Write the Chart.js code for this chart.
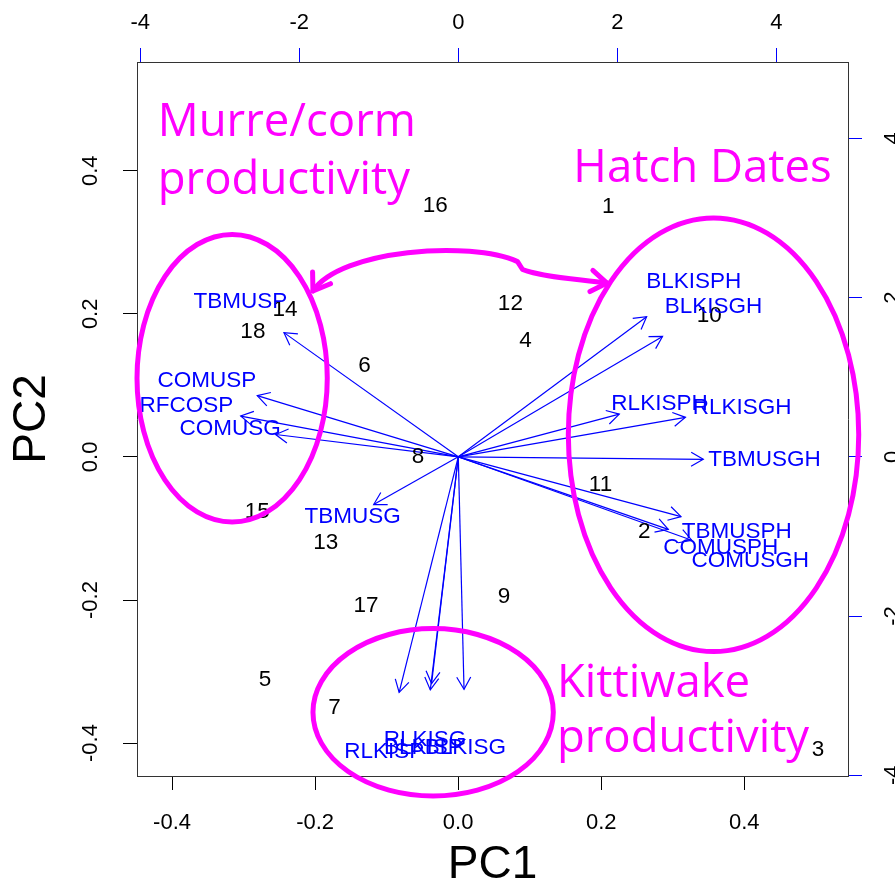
<!DOCTYPE html>
<html>
<head>
<meta charset="utf-8">
<script src="https://cdn.jsdelivr.net/npm/chart.js@4.4.0/dist/chart.umd.min.js"></script>
<style>
html, body { margin: 0; padding: 0; background: #fff; }
</style>
</head>
<body>
<canvas id="biplot" width="895" height="888"></canvas>
<script>
// observation scores (PC1, PC2)
var obsLabels = ['1','2','3','4','5','6','7','8','9','10','11','12','13','14','15','16','17','18'];
var pc1Scores = [0.210, 0.260, 0.503, 0.094, -0.270, -0.131, -0.173, -0.056, 0.064, 0.351, 0.199, 0.073, -0.185, -0.242, -0.281, -0.032, -0.129, -0.287];
var pc2Scores = [0.350, -0.105, -0.410, 0.162, -0.312, 0.127, -0.350, 0.000, -0.196, 0.197, -0.039, 0.214, -0.120, 0.206, -0.077, 0.351, -0.208, 0.175];

// variable loadings (top / right axes)
var varNames = ['TBMUSP','COMUSP','RFCOSP','COMUSG','TBMUSG','BLKISPH','BLKISGH','RLKISPH','RLKISGH','TBMUSGH','TBMUSPH','COMUSPH','COMUSGH','RLKISG','RLKISP','BLKISP','BLKISG'];
var load1 = [-2.74, -3.16, -3.42, -2.87, -1.33, 2.96, 3.21, 2.53, 3.57, 3.85, 3.50, 3.30, 3.67, -0.42, -0.93, -0.44, 0.09];
var load2 = [1.95, 0.96, 0.64, 0.35, -0.75, 2.20, 1.89, 0.67, 0.62, -0.04, -0.94, -1.14, -1.31, -3.56, -3.70, -3.66, -3.65];

// tick values
var pcTicks = [-0.4, -0.2, 0.0, 0.2, 0.4];
var loadTicks = [-4, -2, 0, 2, 4];

var FONT = '"Liberation Sans", Arial, sans-serif';
var BLUE = '#0000ff';
var MAGENTA = '#ff00ff';

// hand-drawn annotations, in PC score units
var ellipses = [
  {cx: -0.316, cy: 0.110, rx: 0.133, ry: 0.201},
  {cx: 0.357, cy: 0.031, rx: 0.203, ry: 0.303},
  {cx: -0.035, cy: -0.357, rx: 0.168, ry: 0.117}
];
var notes = [
  {text: 'Murre/corm', x: -0.420, y: 0.449},
  {text: 'productivity', x: -0.420, y: 0.367},
  {text: 'Hatch Dates', x: 0.161, y: 0.384},
  {text: 'Kittiwake', x: 0.138, y: -0.335},
  {text: 'productivity', x: 0.138, y: -0.413}
];
var linkCurve = [[-0.203, 0.232], [-0.165, 0.290], [0.017, 0.303], [0.083, 0.273], [0.090, 0.262], [0.115, 0.252], [0.164, 0.249], [0.208, 0.243]];

var datasets = [{
  label: 'scores',
  data: pc1Scores.map(function (v, i) { return {x: v, y: pc2Scores[i]}; }),
  xAxisID: 'x', yAxisID: 'y',
  pointRadius: 0, pointHoverRadius: 0
}];
varNames.forEach(function (name, i) {
  datasets.push({
    label: name,
    data: [{x: 0, y: 0}, {x: load1[i] * 0.8, y: load2[i] * 0.8}],
    xAxisID: 'x2', yAxisID: 'y2',
    showLine: true, borderColor: BLUE, borderWidth: 1.2,
    pointRadius: 0, pointHoverRadius: 0
  });
});

function arrowHead(ctx, x0, y0, x1, y1, len, spread) {
  var ang = Math.atan2(y1 - y0, x1 - x0);
  ctx.beginPath();
  ctx.moveTo(x1 - len * Math.cos(ang - spread), y1 - len * Math.sin(ang - spread));
  ctx.lineTo(x1, y1);
  ctx.lineTo(x1 - len * Math.cos(ang + spread), y1 - len * Math.sin(ang + spread));
  ctx.stroke();
}

var biplotText = {
  id: 'biplotText',
  afterDatasetsDraw: function (chart) {
    var ctx = chart.ctx, a = chart.chartArea;
    var lx = chart.scales.x2, ly = chart.scales.y2;
    ctx.save();
    ctx.strokeStyle = BLUE;
    ctx.lineWidth = 1.2;
    for (var i = 1; i < chart.data.datasets.length; i++) {
      var pts = chart.getDatasetMeta(i).data;
      arrowHead(ctx, pts[0].x, pts[0].y, pts[1].x, pts[1].y, 14, Math.PI / 6);
    }
    ctx.beginPath();
    ctx.rect(a.left, a.top, a.right - a.left, a.bottom - a.top);
    ctx.clip();
    ctx.font = '22.5px ' + FONT;
    ctx.textAlign = 'center';
    ctx.textBaseline = 'middle';
    ctx.fillStyle = '#000';
    chart.getDatasetMeta(0).data.forEach(function (p, i) {
      ctx.fillText(obsLabels[i], p.x, p.y);
    });
    ctx.fillStyle = BLUE;
    varNames.forEach(function (n, i) {
      ctx.fillText(n, lx.getPixelForValue(load1[i]), ly.getPixelForValue(load2[i]));
    });
    ctx.restore();
  },
  afterDraw: function (chart) {
    var ctx = chart.ctx;
    var sx = chart.scales.x, sy = chart.scales.y;
    ctx.save();
    // rotated tick labels on the vertical axes
    ctx.font = '22px ' + FONT;
    ctx.fillStyle = '#000';
    ctx.textAlign = 'center';
    ctx.textBaseline = 'middle';
    [[sy, 91], [chart.scales.y2, 893]].forEach(function (pair) {
      var s = pair[0];
      s.ticks.forEach(function (t) {
        ctx.save();
        ctx.translate(pair[1], s.getPixelForValue(t.value));
        ctx.rotate(-Math.PI / 2);
        ctx.fillText(t.label, 0, 0);
        ctx.restore();
      });
    });

    // magenta annotations
    function px(v) { return sx.getPixelForValue(v); }
    function py(v) { return sy.getPixelForValue(v); }
    ctx.strokeStyle = MAGENTA;
    ctx.lineWidth = 5;
    ellipses.forEach(function (e) {
      var cx = px(e.cx), cy = py(e.cy);
      ctx.beginPath();
      ctx.ellipse(cx, cy, Math.abs(px(e.cx + e.rx) - cx), Math.abs(py(e.cy + e.ry) - cy), 0, 0, Math.PI * 2);
      ctx.stroke();
    });
    var c = linkCurve.map(function (p) { return [px(p[0]), py(p[1])]; });
    ctx.lineCap = 'round';
    ctx.lineJoin = 'round';
    ctx.beginPath();
    ctx.moveTo(c[0][0], c[0][1]);
    ctx.bezierCurveTo(c[1][0], c[1][1], c[2][0], c[2][1], c[3][0], c[3][1]);
    ctx.lineTo(c[4][0], c[4][1]);
    ctx.bezierCurveTo(c[5][0], c[5][1], c[6][0], c[6][1], c[7][0], c[7][1]);
    ctx.stroke();
    arrowHead(ctx, c[1][0], c[1][1], c[0][0], c[0][1], 19, 0.6);
    arrowHead(ctx, c[6][0], c[6][1], c[7][0], c[7][1], 19, 0.6);

    ctx.fillStyle = MAGENTA;
    ctx.font = '45.5px "Open Sans", sans-serif';
    ctx.textAlign = 'left';
    ctx.textBaseline = 'alphabetic';
    notes.forEach(function (n) { ctx.fillText(n.text, px(n.x), py(n.y)); });
    ctx.restore();
  }
};

function fixedTicks(values) {
  return function (s) { s.ticks = values.map(function (v) { return {value: v}; }); };
}

var ctx = document.getElementById('biplot').getContext('2d');
var chart = new Chart(ctx, {
  type: 'scatter',
  data: { datasets: datasets },
  options: {
    responsive: false,
    animation: false,
    events: [],
    layout: { padding: 0 },
    plugins: { legend: { display: false }, tooltip: { enabled: false } },
    scales: {
      x: {
        axis: 'x', position: 'bottom', min: -0.449, max: 0.545,
        afterBuildTicks: fixedTicks(pcTicks),
        afterFit: function (s) { s.height = 112; },
        grid: { drawOnChartArea: false, tickLength: 14, tickColor: '#000' },
        border: { color: '#333', width: 1 },
        ticks: { color: '#000', font: { size: 22, family: FONT }, padding: 20, maxRotation: 0,
                 callback: function (v) { return Number(v).toFixed(1); } },
        title: { display: true, text: 'PC1', color: '#000', font: { size: 46, family: FONT, lineHeight: 1 }, padding: 0 }
      },
      y: {
        axis: 'y', position: 'left', min: -0.446, max: 0.552,
        afterBuildTicks: fixedTicks(pcTicks),
        afterFit: function (s) { s.width = 137; },
        grid: { drawOnChartArea: false, tickLength: 14, tickColor: '#000' },
        border: { color: '#333', width: 1 },
        ticks: { color: 'rgba(0,0,0,0)', font: { size: 22, family: FONT },
                 callback: function (v) { return Number(v).toFixed(1); } },
        title: { display: true, text: 'PC2', color: '#000', font: { size: 46, family: FONT, lineHeight: 1 }, padding: { top: 9, bottom: 0 } }
      },
      x2: {
        axis: 'x', position: 'top', min: -4.04, max: 4.90,
        afterBuildTicks: fixedTicks(loadTicks),
        afterFit: function (s) { s.height = 62; },
        grid: { drawOnChartArea: false, tickLength: 14, tickColor: BLUE },
        border: { color: '#333', width: 1 },
        ticks: { color: '#000', font: { size: 22, family: FONT }, padding: 12, maxRotation: 0 }
      },
      y2: {
        axis: 'y', position: 'right', min: -4.01, max: 4.96,
        afterBuildTicks: fixedTicks(loadTicks),
        afterFit: function (s) { s.width = 47; },
        grid: { drawOnChartArea: false, tickLength: 14, tickColor: BLUE },
        border: { color: '#333', width: 1 },
        ticks: { color: 'rgba(0,0,0,0)', font: { size: 22, family: FONT } }
      }
    }
  },
  plugins: [biplotText]
});
</script>
</body>
</html>
